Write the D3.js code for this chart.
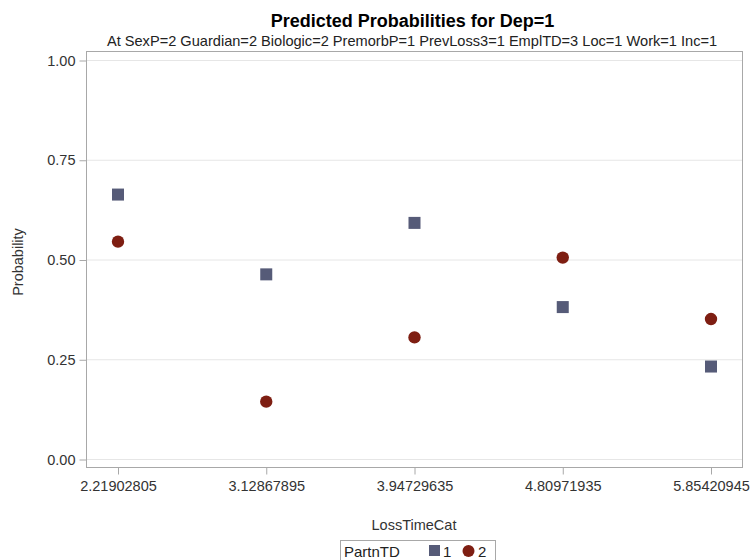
<!DOCTYPE html>
<html><head><meta charset="utf-8">
<script src="https://cdn.jsdelivr.net/npm/d3@7"></script>
<style>body{margin:0;background:#fff;}svg{display:block;font-family:"Liberation Sans",Arial,sans-serif;}</style>
</head><body><svg id="c" width="750" height="560"></svg>
<script>
const categories = ["2.21902805","3.12867895","3.94729635","4.80971935","5.85420945"];
const partn1 = [0.664,0.464,0.593,0.382,0.233];
const partn2 = [0.546,0.145,0.306,0.506,0.352];
const yTicks = [0,0.25,0.5,0.75,1.0];
const seriesNames = ["1","2"];

const svg = d3.select("#c");
const L=86,R=743,T=51,B=468;
const FS = "14.5px";
const x = d3.scalePoint().domain(categories).range([118,711]);
const y = d3.scaleLinear().domain([0,1]).range([459.5,60.5]);

// grid
svg.append("g").selectAll("line").data(yTicks).join("line")
 .attr("x1",L).attr("x2",R).attr("y1",d=>y(d)).attr("y2",d=>y(d))
 .attr("stroke","#e6e6e6").attr("stroke-width",1);
// frame
svg.append("rect").attr("x",L+0.5).attr("y",T+0.5).attr("width",R-L-1).attr("height",B-T-1)
 .attr("fill","none").attr("stroke","#a8a8a8");

// y axis
const ya = svg.append("g").attr("transform",`translate(${L+0.5},0)`)
 .call(d3.axisLeft(y).tickValues(yTicks).tickFormat(d3.format(".2f")).tickSize(7).tickSizeOuter(0).tickPadding(4));
ya.select(".domain").remove();
ya.selectAll("line").attr("stroke","#a8a8a8");
ya.selectAll("text").attr("fill","#333").style("font-size",FS);

// x axis
const xa = svg.append("g").attr("transform",`translate(0,${B-0.5})`)
 .call(d3.axisBottom(x).tickSize(7).tickSizeOuter(0).tickPadding(6));
xa.select(".domain").remove();
xa.selectAll("line").attr("stroke","#a8a8a8");
xa.selectAll("text").attr("fill","#333").style("font-size",FS);

// marks
svg.append("g").selectAll("rect").data(partn1).join("rect")
 .attr("x",(d,i)=>x(categories[i])-6).attr("y",d=>y(d)-6).attr("width",12).attr("height",12)
 .attr("fill","#565b78");
svg.append("g").selectAll("circle").data(partn2).join("circle")
 .attr("cx",(d,i)=>x(categories[i])).attr("cy",d=>y(d)).attr("r",6.2)
 .attr("fill","#7e1e12");

// titles
svg.append("text").attr("x",412.5).attr("y",27).attr("text-anchor","middle")
 .style("font-size","18px").style("font-weight","bold").attr("fill","#000")
 .text("Predicted Probabilities for Dep=1");
svg.append("text").attr("x",412).attr("y",46).attr("text-anchor","middle")
 .style("font-size","14.6px").attr("fill","#222")
 .text("At SexP=2 Guardian=2 Biologic=2 PremorbP=1 PrevLoss3=1 EmplTD=3 Loc=1 Work=1 Inc=1");
svg.append("text").attr("x",414).attr("y",530).attr("text-anchor","middle")
 .style("font-size",FS).attr("fill","#333").text("LossTimeCat");
svg.append("text").attr("transform","translate(23,262) rotate(-90)").attr("text-anchor","middle")
 .style("font-size",FS).attr("fill","#333").text("Probability");

// legend
const lg = svg.append("g");
lg.append("rect").attr("x",340.5).attr("y",540.5).attr("width",155).attr("height",25)
 .attr("fill","none").attr("stroke","#a8a8a8");
lg.append("text").attr("x",344).attr("y",556.5).style("font-size","15px").attr("fill","#222").text("PartnTD");
lg.append("rect").attr("x",429).attr("y",545).attr("width",11).attr("height",11).attr("fill","#565b78");
lg.append("text").attr("x",443).attr("y",556.5).style("font-size","15px").attr("fill","#222").text(seriesNames[0]);
lg.append("circle").attr("cx",468.5).attr("cy",551).attr("r",6).attr("fill","#7e1e12");
lg.append("text").attr("x",478).attr("y",556.5).style("font-size","15px").attr("fill","#222").text(seriesNames[1]);
</script></body></html>
